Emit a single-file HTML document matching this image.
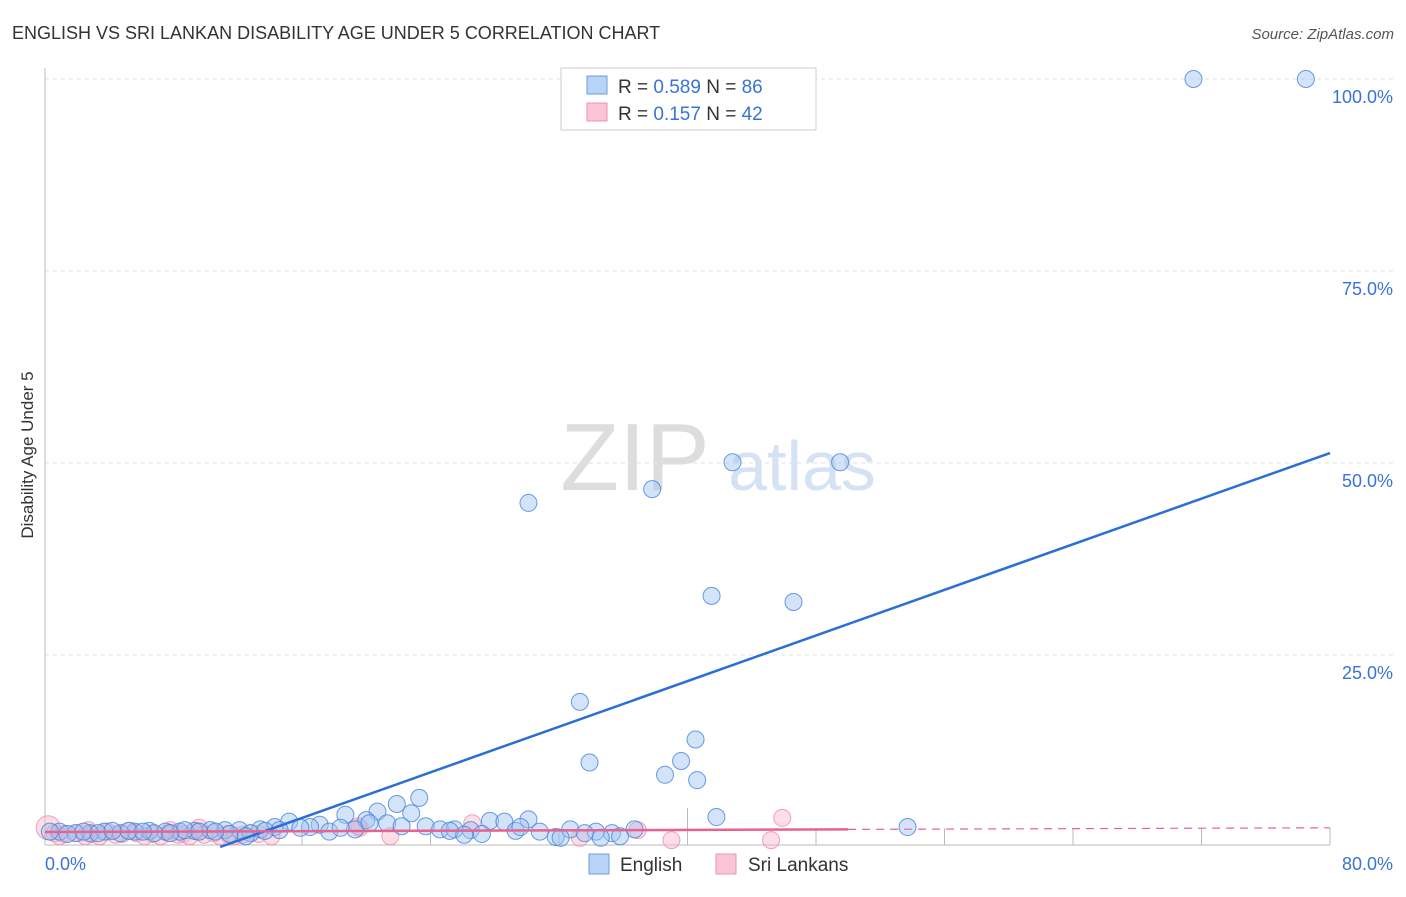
<!DOCTYPE html>
<html><head><meta charset="utf-8"><style>
body{margin:0;background:#fff;font-family:"Liberation Sans",sans-serif;}
svg text{font-family:"Liberation Sans",sans-serif;}
</style></head><body>
<svg width="1406" height="892" id="c">
<text x="12" y="39" font-size="18" fill="#333">ENGLISH VS SRI LANKAN DISABILITY AGE UNDER 5 CORRELATION CHART</text>
<text x="1394" y="39" font-size="15" fill="#555" font-style="italic" text-anchor="end">Source: ZipAtlas.com</text>
<text x="33" y="455" font-size="17" fill="#333" text-anchor="middle" transform="rotate(-90 33 455)">Disability Age Under 5</text>
<text x="635" y="490" font-size="96" fill="#ddd" font-family="Liberation Serif" text-anchor="middle">ZIP</text>
<text x="802" y="490" font-size="70" fill="#d4e2f4" text-anchor="middle">atlas</text>
<g id="grid"></g><g id="pts"></g><g id="trend"></g>
<g>
<rect x="561" y="68" width="255" height="62" fill="#fff" stroke="#ccc"/>
<rect x="587" y="76" width="20" height="18" fill="#b8d3f5" stroke="#6a9de0"/>
<text x="618" y="93" font-size="19" fill="#333">R = <tspan fill="#3a73d8">0.589</tspan>   N = <tspan fill="#3a73d8">86</tspan></text>
<rect x="587" y="103" width="20" height="18" fill="#fac5d4" stroke="#ec93ad"/>
<text x="618" y="120" font-size="19" fill="#333">R =  <tspan fill="#3a73d8">0.157</tspan>   N = <tspan fill="#3a73d8">42</tspan></text>
</g>
<g>
<rect x="589" y="854" width="20" height="20" fill="#b8d3f5" stroke="#6a9de0"/>
<text x="620" y="871" font-size="19" fill="#333">English</text>
<rect x="716" y="854" width="20" height="20" fill="#fac5d4" stroke="#ec93ad"/>
<text x="748" y="871" font-size="19" fill="#333">Sri Lankans</text>
</g>
</svg>
<script>
const yTicks=[25,50,75,100];
const yTickLabels=["25.0%","50.0%","75.0%","100.0%"];
const englishX=[71.5,78.5,42.8,49.5,37.8,30.1,41.5,46.6,33.3,40.5,33.9,39.6,38.6,40.6,23.3,21.9,41.8,53.7,18.7,20.7,22.8,20,21.3,22.2,15.2,17.1,27.7,28.6,30.1,23.7,24.6,25.5,26.5,27.2,29.3,30.8,31.8,32.7,34.3,35.3,36.7,34.6,32.1,17.7,19.3,16.5,14.3,13.4,12.1,11.2,10.3,9.3,8.4,7.5,6.5,5.6,4.7,3.7,2.8,1.9,0.9,0.3,14.6,15.9,11.5,10.6,8.7,6.8,5.2,3.3,2.4,1.4,4.2,6.1,7.8,9.6,12.8,13.7,18.4,20.2,25.2,26.1,29.6,33.6,35.8,12.5];
const englishY=[100,100,50.1,50.1,46.6,44.8,32.7,31.9,18.9,14,11,11.2,9.4,8.7,6.4,5.6,3.9,2.6,4.2,4.6,4.4,3.5,3.1,2.7,3.3,2.9,3.4,3.3,3.6,2.7,2.3,2.3,2.2,1.7,2.1,2,1.3,2.3,2,1.8,2.3,1.2,1.2,2,2.3,2.6,2.6,2.3,2.2,2.2,2.2,2.1,2,2,2.1,2,1.8,2,1.8,1.8,2,2,2.2,2.5,1.7,2,2.2,1.8,2.1,1.8,2,1.7,2.1,2,1.8,2,1.8,2.1,2.5,3.1,2.1,1.6,2.6,1.8,1.4,1.4];
const sriX=[0.2,0.6,1.2,2,2.9,3.9,4.8,5.7,6.7,7.7,8.6,9.5,10.5,11.4,12.3,13.3,14.1,9.6,7.8,5.3,19.6,21.5,26.6,19.5,36.9,33.3,39,45.9,45.2,0.9,2.5,3.4,6.2,7.2,9,10.9,11.8,12.8,4.4,9.9,8.3,2.7];
const sriY=[2.5,1.8,1.7,1.8,1.7,2,1.7,1.8,1.7,1.8,1.7,2,1.8,1.7,1.6,1.7,1.4,2.5,2.2,2.1,2.5,1.4,3.1,2.7,2.2,1.2,0.9,3.8,0.9,1.4,1.4,1.4,1.4,1.4,1.4,1.4,1.4,1.8,1.6,1.6,1.6,2.2];
const englishTrend=[-8.1,51.3];
const sriTrend=[1.95,2.5];
const NS="http://www.w3.org/2000/svg";
const X0=45,X1=1330,Y0=847,Y100=79;
const sx=v=>X0+(v/80)*(X1-X0);
const sy=v=>Y0-(v/100)*(Y0-Y100);
function mk(t,a,p){const e=document.createElementNS(NS,t);for(const k in a)e.setAttribute(k,a[k]);p.appendChild(e);return e;}
const grid=document.getElementById('grid');
yTicks.forEach((t,i)=>{
const l=mk('line',{x1:45,x2:1394,y1:sy(t),y2:sy(t),stroke:'#e2e2e2','stroke-dasharray':'4,4'},grid);


const tx=mk('text',{x:1393,y:sy(t)+24,'font-size':18,fill:'#3a73d8','text-anchor':'end'},grid);
tx.textContent=yTickLabels[i];


});
let ax=mk('line',{x1:45,x2:45,y1:68,y2:845,stroke:'#bbb'},grid);

ax=mk('line',{x1:45,x2:1330,y1:845,y2:845,stroke:'#bbb'},grid);

for(let v=16;v<=80;v+=8){const tk=mk('line',{x1:sx(v),x2:sx(v),y1:v==40?808:828,y2:845,stroke:'#bbb'},grid);
}
let t0=mk('text',{x:45,y:870,'font-size':18,fill:'#3a73d8'},grid);t0.textContent='0.0%';

t0=mk('text',{x:1393,y:870,'font-size':18,fill:'#3a73d8','text-anchor':'end'},grid);t0.textContent='80.0%';

const pts=document.getElementById('pts');
sriX.forEach((x,i)=>{const c=mk('circle',{cx:sx(x),cy:sy(sriY[i]),r:i==0?12:8.5,fill:'rgba(250,180,200,0.45)',stroke:'rgba(236,140,170,0.8)'},pts);
});
englishX.forEach((x,i)=>{const c=mk('circle',{cx:sx(x),cy:sy(englishY[i]),r:8.5,fill:'rgba(160,195,240,0.45)',stroke:'rgba(70,130,220,0.8)'},pts);
});
const tr=document.getElementById('trend');
const ey=x=>englishTrend[0]+(englishTrend[1]-englishTrend[0])*x/80;
const xs=-englishTrend[0]*80/(englishTrend[1]-englishTrend[0]);
let L=mk('line',{x1:sx(xs),y1:sy(0),x2:sx(80),y2:sy(ey(80)),stroke:'#2a6fd6','stroke-width':2.5},tr);

const py=x=>sriTrend[0]+(sriTrend[1]-sriTrend[0])*x/80;
L=mk('line',{x1:sx(0),y1:sy(py(0)),x2:sx(50),y2:sy(py(50)),stroke:'#e8628f','stroke-width':2.5},tr);

L=mk('line',{x1:sx(50),y1:sy(py(50)),x2:sx(80),y2:sy(py(80)),stroke:'#e8628f','stroke-width':1.2,'stroke-dasharray':'8,6'},tr);

</script>
</body></html>
